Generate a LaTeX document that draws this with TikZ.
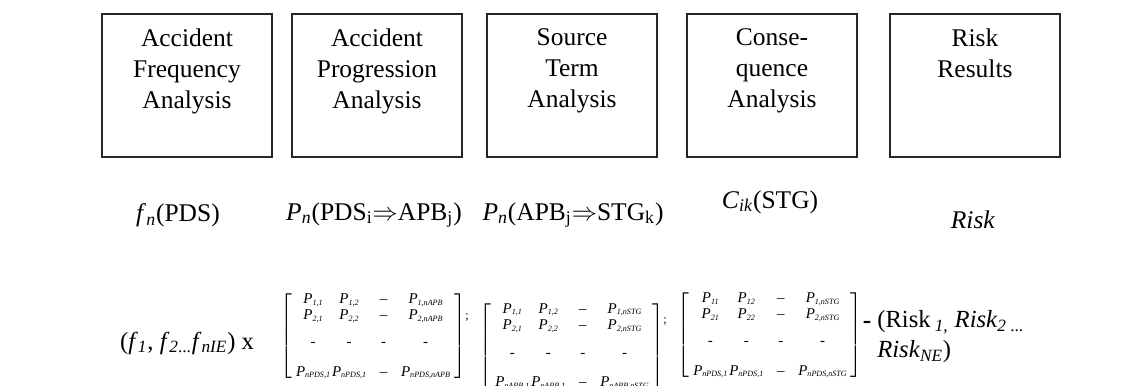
\documentclass[tikz,border=0pt]{standalone}
\usepackage{fontspec}
\setmainfont{Liberation Serif}
\usetikzlibrary{positioning,matrix}
\newcommand\Pe[1]{\textit{P}\raisebox{-0.25ex}{\fontsize{4.6}{5}\selectfont\textit{#1}}}

\tikzset{
  stage/.style={draw=black!85, line width=0.9pt, minimum width=3.4cm, minimum height=2.86cm},
  stagetext/.style={align=center, font=\fontsize{14.5}{17.6}\selectfont, inner sep=0pt, anchor=north},
  quantity/.style={font=\fontsize{14.5}{17}\selectfont, inner sep=0pt},
  pmatrix/.style={matrix of nodes, left delimiter={[}, right delimiter={]},
    nodes={font=\fontsize{8.5}{10}\selectfont, inner sep=0pt, text height=6pt, text depth=1.5pt, minimum width=0.62cm},
    column sep=0.04cm, row sep=0.06cm, inner sep=1pt},
  tinysep/.style={font=\fontsize{7}{8}\selectfont, inner sep=0pt}
}

\begin{document}
\begin{tikzpicture}
        \useasboundingbox (0,0) rectangle (22.86,-7.72);
        %Stages
        \node[stage] (b1) at (3.74,-1.71) {};
        \node[stage] (b2) at (7.54,-1.71) {};
        \node[stage] (b3) at (11.44,-1.71) {};
        \node[stage] (b4) at (15.44,-1.71) {};
        \node[stage] (b5) at (19.50,-1.71) {};
        \node[stagetext, below=0.3cm of b1.north] (l1) {Accident\\Frequency\\Analysis};
        \node[stagetext, below=0.3cm of b2.north] (l2) {Accident\\Progression\\Analysis};
        \node[stagetext, below=0.3cm of b3.north] (l3) {Source\\Term\\Analysis};
        \node[stagetext, below=0.3cm of b4.north] (l4) {Conse-\\quence\\Analysis};
        \node[stagetext, below=0.3cm of b5.north] (l5) {Risk\\Results};
        %Quantities
        \node[quantity] (q1) at (3.56,-4.30) {\textit{f}\textsubscript{\textit{n}}(PDS)};
        \node[quantity] (q2) at (7.48,-4.30) {\textit{P}\textsubscript{\textit{n}}(PDS\textsubscript{i}$\Rightarrow$APB\textsubscript{j})};
        \node[quantity] (q3) at (11.46,-4.30) {\textit{P}\textsubscript{\textit{n}}(APB\textsubscript{j}$\Rightarrow$STG\textsubscript{k})};
        \node[quantity] (q4) at (15.40,-4.04) {\textit{C}\textsubscript{\textit{ik}}(STG)};
        \node[quantity] (q5) at (19.46,-4.40) {\textit{Risk}};
        %Matrices
        \node[quantity, font=\fontsize{14}{17}\selectfont] (f) at (3.74,-6.86) {(\textit{f}\textsubscript{\textit{1}}, \textit{f}\textsubscript{\textit{2}...}\textit{f}\textsubscript{\textit{nIE}}) x};
        \matrix[pmatrix] (m1) at (7.46,-6.72) {
          \Pe{1,1} & \Pe{1,2} & \textendash & \Pe{1,nAPB} \\
          \Pe{2,1} & \Pe{2,2} & \textendash & \Pe{2,nAPB} \\[0.2cm]
          - & - & - & - \\[0.28cm]
          \Pe{nPDS,1} & \Pe{nPDS,1} & \textendash & \Pe{nPDS,nAPB} \\
        };
        \node[tinysep] (s1) at (9.34,-6.36) {;};
        \matrix[pmatrix] (m2) at (11.44,-6.92) {
          \Pe{1,1} & \Pe{1,2} & \textendash & \Pe{1,nSTG} \\
          \Pe{2,1} & \Pe{2,2} & \textendash & \Pe{2,nSTG} \\[0.24cm]
          - & - & - & - \\[0.26cm]
          \Pe{nAPB,1} & \Pe{nAPB,1} & \textendash & \Pe{nAPB,nSTG} \\
        };
        \node[tinysep] (s2) at (13.30,-6.44) {;};
        \matrix[pmatrix] (m3) at (15.40,-6.70) {
          \Pe{11} & \Pe{12} & \textendash & \Pe{1,nSTG} \\
          \Pe{21} & \Pe{22} & \textendash & \Pe{2,nSTG} \\[0.2cm]
          - & - & - & - \\[0.28cm]
          \Pe{nPDS,1} & \Pe{nPDS,1} & \textendash & \Pe{nPDS,nSTG} \\
        };
        \node[quantity, font=\fontsize{14.5}{17}\selectfont\bfseries] (eq) at (17.34,-6.50) {-};
        \node[quantity, align=left, anchor=north west, font=\fontsize{14}{17}\selectfont] (r) at (17.54,-6.20)
          {(Risk\,\textsubscript{\textit{1,}} \textit{Risk}\textsubscript{\textit{2} ...}\\\textit{Risk}\textsubscript{\textit{NE}})};
\end{tikzpicture}
\end{document}
